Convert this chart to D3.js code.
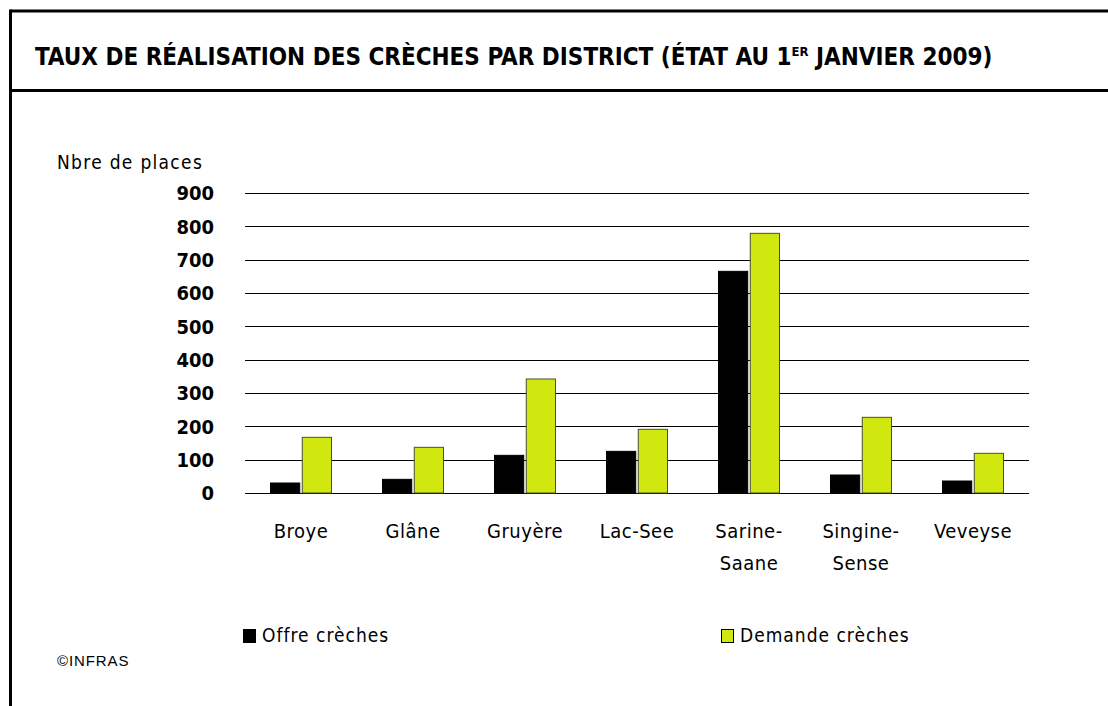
<!DOCTYPE html>
<html>
<head>
<meta charset="utf-8">
<script src="https://cdn.jsdelivr.net/npm/d3@7"></script>
<style>
  body { margin: 0; background: #fff; }
  text { font-family: "DejaVu Sans Condensed", "DejaVu Sans", sans-serif; fill: #000; }
</style>
</head>
<body>
<svg id="chart" width="1108" height="706"></svg>
<script>
// data
var districts = ["Broye", "Glâne", "Gruyère", "Lac-See", "Sarine-Saane", "Singine-Sense", "Veveyse"];
var districtLines = [["Broye"], ["Glâne"], ["Gruyère"], ["Lac-See"], ["Sarine-", "Saane"], ["Singine-", "Sense"], ["Veveyse"]];
var offre = [30, 41, 113, 125, 665, 54, 36];
var demande = [167, 137, 342, 191, 779, 227, 119];
var seriesKeys = ["offre", "demande"];
var seriesNames = ["Offre crèches", "Demande crèches"];
var seriesColors = ["#000000", "#d0e80f"];
var yTicks = [0, 100, 200, 300, 400, 500, 600, 700, 800, 900];

var svg = d3.select("#chart");

// frame
svg.append("line").attr("x1", 10.5).attr("x2", 1108).attr("y1", 11).attr("y2", 11)
    .attr("stroke", "#000").attr("stroke-width", 3);
svg.append("line").attr("x1", 10.5).attr("x2", 10.5).attr("y1", 9.5).attr("y2", 706)
    .attr("stroke", "#000").attr("stroke-width", 3);
svg.append("line").attr("x1", 10.5).attr("x2", 1108).attr("y1", 90.5).attr("y2", 90.5)
    .attr("stroke", "#000").attr("stroke-width", 3);

// title
var title = svg.append("text")
    .attr("x", 35)
    .attr("y", 65)
    .style("font-size", "24px")
    .style("font-weight", "bold");
title.append("tspan").text("TAUX DE RÉALISATION DES CRÈCHES PAR DISTRICT (ÉTAT AU 1");
title.append("tspan").attr("dy", -9).style("font-size", "13px").text("ER");
title.append("tspan").attr("dy", 9).text(" JANVIER 2009)");

var left = 245, right = 1029;

var y = d3.scaleLinear().domain([0, 900]).range([493, 193]);

var x0 = d3.scaleBand()
    .domain(districts)
    .range([left, right])
    .paddingInner(0.41)
    .paddingOuter(0.205);

var x1 = d3.scaleBand()
    .domain(seriesKeys)
    .range([0, x0.bandwidth()])
    .padding(0.08);

var color = d3.scaleOrdinal().domain(seriesKeys).range(seriesColors);

// gridlines
svg.append("g")
    .attr("class", "grid")
    .selectAll("line")
    .data(yTicks)
    .enter().append("line")
    .attr("x1", left)
    .attr("x2", right)
    .attr("y1", function(d) { return Math.round(y(d)) + 0.5; })
    .attr("y2", function(d) { return Math.round(y(d)) + 0.5; })
    .attr("stroke", "#000")
    .attr("stroke-width", 1.2);

// y tick labels
svg.append("g")
    .selectAll("text")
    .data(yTicks)
    .enter().append("text")
    .attr("x", 214)
    .attr("y", function(d) { return y(d); })
    .attr("dy", "0.36em")
    .attr("text-anchor", "end")
    .style("font-size", "20px")
    .style("font-weight", "bold")
    .text(function(d) { return d; });

svg.append("text")
    .attr("x", 57)
    .attr("y", 169)
    .style("font-size", "19px")
    .style("letter-spacing", "1.3px")
    .text("Nbre de places");

// bars
var rows = districts.map(function(d, i) {
    return { district: d, offre: offre[i], demande: demande[i] };
});

var groups = svg.append("g")
    .selectAll("g")
    .data(rows)
    .enter().append("g")
    .attr("transform", function(d) { return "translate(" + x0(d.district) + ",0)"; });

groups.selectAll("rect")
    .data(function(d) { return seriesKeys.map(function(k) { return { key: k, value: d[k] }; }); })
    .enter().append("rect")
    .attr("x", function(d) { return x1(d.key); })
    .attr("y", function(d) { return y(d.value); })
    .attr("width", x1.bandwidth())
    .attr("height", function(d) { return y(0) - y(d.value); })
    .attr("fill", function(d) { return color(d.key); })
    .attr("stroke", function(d) { return d.key === "demande" ? "#4d4d33" : "#000"; })
    .attr("stroke-width", 1);

// category labels
var cat = svg.append("g")
    .selectAll("text")
    .data(districts)
    .enter().append("text")
    .attr("x", function(d) { return x0(d) + x0.bandwidth() / 2; })
    .attr("y", 538)
    .attr("text-anchor", "middle")
    .style("font-size", "20px")
    .style("letter-spacing", "0.5px");

cat.selectAll("tspan")
    .data(function(d, i) { return districtLines[i]; })
    .enter().append("tspan")
    .attr("x", function() { return d3.select(this.parentNode).attr("x"); })
    .attr("dy", function(d, i) { return i === 0 ? 0 : 32; })
    .text(function(d) { return d; });

// legend
var legendX = [243, 721];
var leg = svg.append("g")
    .selectAll("g")
    .data(seriesKeys)
    .enter().append("g")
    .attr("transform", function(d, i) { return "translate(" + legendX[i] + ",629)"; });

leg.append("rect")
    .attr("x", 0.5)
    .attr("y", 0.5)
    .attr("width", 12)
    .attr("height", 13)
    .attr("fill", color)
    .attr("stroke", "#000")
    .attr("stroke-width", 1);

leg.append("text")
    .attr("x", 19)
    .attr("y", 13)
    .style("font-size", "19px")
    .style("letter-spacing", "1px")
    .text(function(d, i) { return seriesNames[i]; });

svg.append("text")
    .attr("x", 57)
    .attr("y", 666)
    .style("font-family", "'Liberation Sans', Arial, sans-serif")
    .style("font-size", "15px")
    .style("letter-spacing", "0.9px")
    .text("©INFRAS");
</script>
</body>
</html>
